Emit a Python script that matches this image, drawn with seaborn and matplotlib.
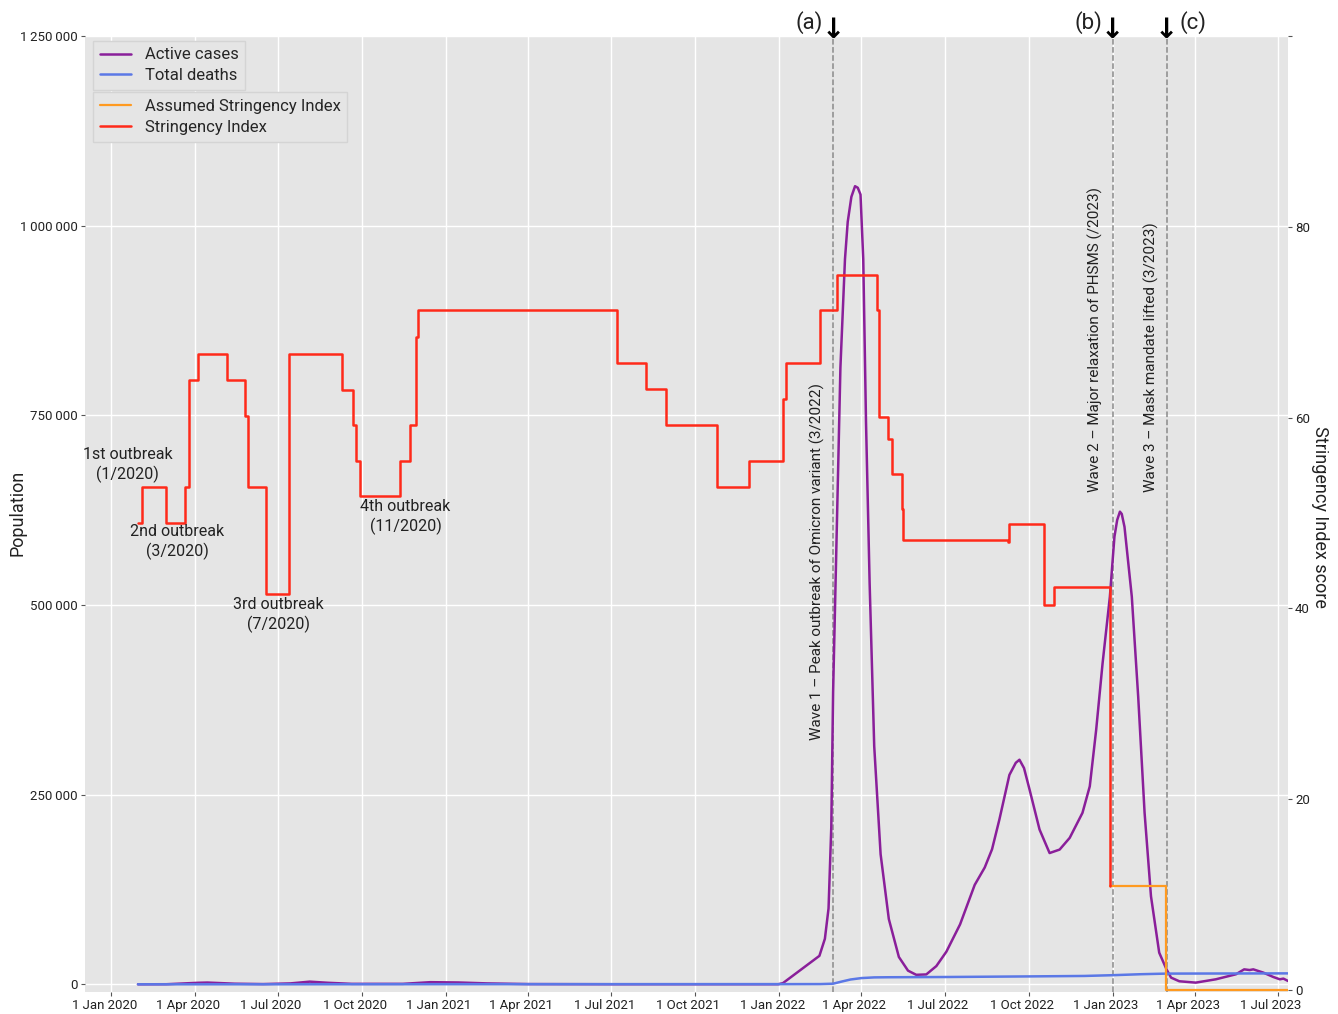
import matplotlib
matplotlib.use("Agg")
import matplotlib.pyplot as plt
from matplotlib.transforms import ScaledTranslation
from matplotlib.ticker import FuncFormatter
import pandas as pd
import seaborn as sns

# active cases (left axis)
case_dates = ["2020-01-30", "2020-03-01", "2020-04-05", "2020-04-15", "2020-05-15", "2020-06-15",
              "2020-07-15", "2020-08-05", "2020-08-25", "2020-09-20", "2020-11-15", "2020-12-15",
              "2021-01-15", "2021-02-15", "2021-04-01", "2021-07-01", "2021-12-31", "2022-01-05",
              "2022-01-20", "2022-02-14", "2022-02-20", "2022-02-24", "2022-02-27", "2022-03-01",
              "2022-03-05", "2022-03-09", "2022-03-14", "2022-03-17", "2022-03-21", "2022-03-25",
              "2022-03-28", "2022-03-31", "2022-04-03", "2022-04-06", "2022-04-10", "2022-04-15",
              "2022-04-22", "2022-05-01", "2022-05-12", "2022-05-22", "2022-05-31", "2022-06-11",
              "2022-06-22", "2022-07-03", "2022-07-18", "2022-08-03", "2022-08-14", "2022-08-22",
              "2022-08-30", "2022-09-10", "2022-09-17", "2022-09-21", "2022-09-26", "2022-10-02",
              "2022-10-13", "2022-10-24", "2022-11-04", "2022-11-15", "2022-11-29", "2022-12-07",
              "2022-12-14", "2022-12-21", "2022-12-29", "2023-01-03", "2023-01-06", "2023-01-09",
              "2023-01-11", "2023-01-14", "2023-01-22", "2023-01-29", "2023-02-05", "2023-02-12",
              "2023-02-21", "2023-03-01", "2023-03-06", "2023-03-15", "2023-04-02", "2023-04-24",
              "2023-05-16", "2023-05-25", "2023-05-31", "2023-06-04", "2023-06-15", "2023-06-26",
              "2023-07-03", "2023-07-07", "2023-07-12"]
case_values = [10, 100, 2000, 2300, 800, 300,
               1200, 3500, 2000, 600, 600, 2800,
               2400, 1200, 300, 100, 100, 1500,
               15000, 37500, 60000, 100000, 207000, 385000,
               599000, 813000, 956000, 1005000, 1038000, 1052000,
               1050000, 1041000, 956000, 742000, 528000, 314000,
               171500, 86000, 36000, 18000, 12500, 13000,
               24000, 43000, 79000, 131000, 154000, 178000,
               217000, 276000, 292000, 296000, 285000, 257000,
               204000, 173000, 177600, 193000, 226000, 261000,
               335500, 423000, 511000, 590000, 612000, 623000,
               620000, 603000, 511000, 379000, 226000, 116000,
               41700, 19700, 8800, 4000, 2200, 6600,
               13200, 19700, 18800, 19700, 15400, 9600,
               6600, 7500, 4400]

# total deaths (left axis)
death_dates = ["2020-01-30", "2020-07-01", "2021-01-01", "2021-12-31", "2022-02-15", "2022-03-01",
               "2022-03-10", "2022-03-20", "2022-04-01", "2022-04-15", "2022-05-01", "2022-07-01",
               "2022-10-01", "2022-12-01", "2023-01-01", "2023-02-01", "2023-03-01", "2023-07-12"]
death_values = [0, 7, 150, 213, 300, 800,
                3500, 6300, 8200, 9100, 9300, 9600,
                10400, 11000, 12000, 13300, 14100, 14400]

# stringency index (right axis)
si_dates = ["2020-01-30", "2020-02-03", "2020-03-01", "2020-03-22", "2020-03-26", "2020-04-05",
            "2020-05-07", "2020-05-26", "2020-05-29", "2020-06-18", "2020-07-13", "2020-09-09",
            "2020-09-21", "2020-09-25", "2020-09-29", "2020-11-12", "2020-11-23", "2020-11-29",
            "2020-12-02", "2021-07-07", "2021-08-08", "2021-08-30", "2021-10-25", "2021-11-29",
            "2022-01-05", "2022-01-08", "2022-02-15", "2022-03-05", "2022-04-18", "2022-04-20",
            "2022-04-30", "2022-05-04", "2022-05-15", "2022-05-17", "2022-09-08", "2022-09-10",
            "2022-10-18", "2022-10-29", "2022-12-29"]
si_values = [49.0, 52.7, 49.0, 52.7, 63.9, 66.7,
             63.9, 60.2, 52.7, 41.5, 66.7, 62.9,
             59.2, 55.5, 51.8, 55.5, 59.2, 68.5,
             71.3, 65.7, 63.0, 59.2, 52.7, 55.5,
             62.0, 65.7, 71.3, 75.0, 71.3, 60.1,
             57.8, 54.1, 50.4, 47.2, 47.0, 48.8,
             40.4, 42.2, 10.9]

assumed_dates = ["2022-12-29", "2023-02-28", "2023-07-12"]
assumed_values = [10.9, 0.0, 0.0]

event_dates = ["2022-03-01", "2023-01-01", "2023-03-01"]
event_letters = ["(a)", "(b)", "(c)"]
event_texts = ["Wave 1 \u2013 Peak outbreak of Omicron variant (3/2022)",
               "Wave 2 \u2013 Major relaxation of PHSMS (/2023)",
               "Wave 3 \u2013 Mask mandate lifted (3/2023)"]
event_text_x = ["2022-02-12", "2022-12-13", "2023-02-12"]
event_text_y = [26.2, 52.2, 52.2]

outbreak_labels = ["1st outbreak\n(1/2020)", "2nd outbreak\n(3/2020)",
                   "3rd outbreak\n(7/2020)", "4th outbreak\n(11/2020)"]
outbreak_x = ["2020-01-19", "2020-03-13", "2020-07-02", "2020-11-18"]
outbreak_y = [55.0, 47.0, 39.3, 49.6]

tick_dates = pd.date_range("2020-01-01", "2023-07-01", freq="QS")
tick_labels = [f"{d.day} {d.strftime('%b %Y')}" for d in tick_dates]

sns.set_theme(style="darkgrid", rc={"axes.facecolor": "#e5e5e5", "grid.color": "white",
                                    "grid.linewidth": 1.0, "xtick.bottom": True, "ytick.left": True})
plt.rcParams["font.family"] = ["Roboto", "DejaVu Sans"]

fig = plt.figure(figsize=(13.38, 10.14), dpi=100)
ax = fig.add_axes([85 / 1338, 22 / 1014, 1203 / 1338, 956 / 1014])

sns.lineplot(x=pd.to_datetime(case_dates), y=case_values, ax=ax, color="#8a1f9a", lw=1.8,
             label="Active cases")
sns.lineplot(x=pd.to_datetime(death_dates), y=death_values, ax=ax, color="#5b78e6", lw=1.8,
             label="Total deaths")

for d in event_dates:
    ax.axvline(pd.Timestamp(d), color="#8a8a8a", ls="--", lw=1.1, zorder=1)

ax.set_xlim(pd.Timestamp("2019-12-03"), pd.Timestamp("2023-07-12"))
ax.set_ylim(-10150, 1250000)
ax.set_yticks([0, 250000, 500000, 750000, 1000000, 1250000])
ax.yaxis.set_major_formatter(FuncFormatter(lambda v, p: f"{int(v):,}".replace(",", "\u2009")))
ax.set_xticks(tick_dates)
ax.set_xticklabels(tick_labels)
ax.tick_params(axis="both", labelsize=9.5, colors="#555555", labelcolor="#222222", length=3, width=0.8, pad=2)
for lab in ax.get_xticklabels():
    lab.set_transform(lab.get_transform() + ScaledTranslation(-0.07, 0, fig.dpi_scale_trans))
ax.set_ylabel("")
ax.set_xlabel("")
for s in ax.spines.values():
    s.set_visible(False)

ax2 = ax.twinx()
sns.lineplot(x=pd.to_datetime(assumed_dates), y=assumed_values, ax=ax2, color="#ff9a20", lw=1.6,
             drawstyle="steps-post", label="Assumed Stringency Index")
sns.lineplot(x=pd.to_datetime(si_dates), y=si_values, ax=ax2, color="#ff2a1a", lw=1.8,
             drawstyle="steps-post", label="Stringency Index")
ax2.set_ylim(-0.2, 100)
ax2.set_yticks([0, 20, 40, 60, 80, 100])
ax2.set_yticklabels(["0", "20", "40", "60", "80", ""])
ax2.grid(False)
ax2.tick_params(axis="y", labelsize=9.5, colors="#555555", labelcolor="#222222", length=3, width=0.8, pad=2)
ax2.set_ylabel("")
for s in ax2.spines.values():
    s.set_visible(False)

fig.text(18 / 1338, 1 - 513 / 1014, "Population", rotation=90, ha="center", va="center",
         fontsize=13, color="#222222")
fig.text(1320 / 1338, 1 - 517 / 1014, "Stringency Index score", rotation=270, ha="center",
         va="center", fontsize=13, color="#222222")

for t, x, y in zip(outbreak_labels, outbreak_x, outbreak_y):
    ax2.text(pd.Timestamp(x), y, t, ha="center", va="center", fontsize=11.5, color="#222222",
             linespacing=1.3)

for t, x, y in zip(event_texts, event_text_x, event_text_y):
    ax2.text(pd.Timestamp(x), y, t, rotation=90, ha="center", va="bottom", fontsize=11,
             color="#222222")

trans = ax.get_xaxis_transform()
for d, letter in zip(event_dates, event_letters):
    ax.text(pd.Timestamp(d), 0.992, "\u2193", transform=trans, ha="center", va="bottom",
            fontsize=20, fontweight="bold", family="DejaVu Sans", color="black")
    if letter == "(c)":
        ax.text(pd.Timestamp(d), 1.002, letter, transform=trans + ScaledTranslation(0.13, 0, fig.dpi_scale_trans),
                ha="left", va="bottom", fontsize=16, color="#222222")
    else:
        ax.text(pd.Timestamp(d), 1.002, letter, transform=trans + ScaledTranslation(-0.1, 0, fig.dpi_scale_trans),
                ha="right", va="bottom", fontsize=16, color="#222222")

leg_style = dict(fontsize=12, frameon=True, facecolor="#e5e5e5", edgecolor="#d4d4d4",
                 framealpha=1, fancybox=False, borderpad=0.4, labelspacing=0.35, handlelength=1.9,
                 handletextpad=0.8, borderaxespad=0)
h1, l1 = ax.get_legend_handles_labels()
ax.legend(h1, l1, loc="upper left", bbox_to_anchor=(0.0067, 0.995), **leg_style)
h2, l2 = ax2.get_legend_handles_labels()
ax2.legend(h2, l2, loc="upper left", bbox_to_anchor=(0.0067, 0.941), **leg_style)

fig.savefig("out.png", dpi=100)
